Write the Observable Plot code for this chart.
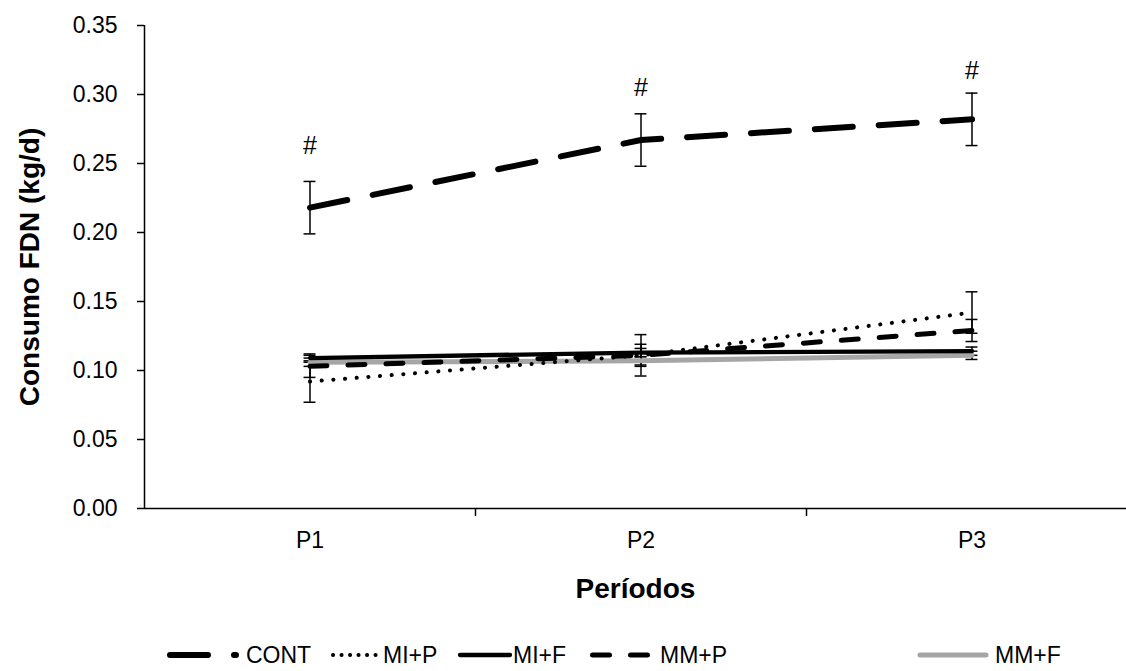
<!DOCTYPE html>
<html><head><meta charset="utf-8">
<script src="https://cdn.jsdelivr.net/npm/d3@7"></script>
<script src="https://cdn.jsdelivr.net/npm/@observablehq/plot@0.6"></script>
<style>
html,body{margin:0;padding:0;background:#fff;}
body{width:1126px;height:671px;overflow:hidden;font-family:"Liberation Sans",Arial,sans-serif;}
#legend svg{display:block;}
</style></head><body><div id="chart"></div><div id="legend"></div>
<script>
const periods = ["P1", "P2", "P3"];
const seriesNames = ["CONT", "MI+P", "MI+F", "MM+P", "MM+F"];
const contValues = [0.218, 0.267, 0.282];
const contErrors = [0.019, 0.019, 0.019];
const miPValues = [0.092, 0.111, 0.142];
const miPErrors = [0.015, 0.015, 0.015];
const miFValues = [0.109, 0.113, 0.114];
const miFErrors = [0.003, 0.003, 0.003];
const mmPValues = [0.103, 0.111, 0.129];
const mmPErrors = [0.008, 0.008, 0.008];
const mmFValues = [0.106, 0.107, 0.111];
const mmFErrors = [0.003, 0.003, 0.003];
const sigMarks = ["#", "#", "#"];
const sigLabelY = [0.263, 0.305, 0.317];
const yTicks = [0, 0.05, 0.10, 0.15, 0.20, 0.25, 0.30, 0.35];

const valuesBySeries = {"CONT": contValues, "MI+P": miPValues, "MI+F": miFValues, "MM+P": mmPValues, "MM+F": mmFValues};
const errorsBySeries = {"CONT": contErrors, "MI+P": miPErrors, "MI+F": miFErrors, "MM+P": mmPErrors, "MM+F": mmFErrors};

const styles = {
  "CONT": {stroke: "#000", strokeWidth: 6, dash: "38,26"},
  "MI+P": {stroke: "#000", strokeWidth: 4, dash: "0.1,11.6"},
  "MI+F": {stroke: "#000", strokeWidth: 4.3, dash: null},
  "MM+P": {stroke: "#000", strokeWidth: 5, dash: "17,21"},
  "MM+F": {stroke: "#A6A6A6", strokeWidth: 5, dash: null}
};

const rows = [];
for (const s of seriesNames) {
  periods.forEach((p, i) => rows.push({series: s, x: i + 1, v: valuesBySeries[s][i], e: errorsBySeries[s][i]}));
}
const sigRows = periods.map((p, i) => ({x: i + 1, y: sigLabelY[i], t: sigMarks[i]}));

const drawOrder = ["MM+F", "MI+F", "MM+P", "MI+P", "CONT"];
const capHalf = 0.018;
const font = '"Liberation Sans", Arial, sans-serif';

const lineMarks = drawOrder.map(s => Plot.line(rows.filter(d => d.series === s), {
  x: "x", y: "v", stroke: styles[s].stroke, strokeWidth: styles[s].strokeWidth,
  strokeDasharray: styles[s].dash || undefined, strokeLinecap: "round", strokeLinejoin: "round"
}));

const chart = Plot.plot({
  width: 1126, height: 630,
  marginLeft: 144, marginRight: 0, marginTop: 25, marginBottom: 122,
  style: {fontFamily: font, fontSize: "23px", color: "#000", background: "#fff", overflow: "visible"},
  x: {type: "linear", domain: [0.5, 3.5], range: [144, 1137]},
  y: {domain: [0, 0.35]},
  marks: [
    Plot.ruleY([0], {stroke: "#000", strokeWidth: 1.5}),
    Plot.ruleX([0.5], {y1: 0, y2: 0.35, stroke: "#000", strokeWidth: 1.5}),
    Plot.axisY({ticks: yTicks, tickFormat: d3.format(".2f"), tickSize: 7, tickPadding: 20, label: null, strokeWidth: 1.5, fontSize: 23}),
    Plot.axisX({ticks: [1.5, 2.5], tickSize: 8, tickFormat: () => "", label: null, strokeWidth: 1.5}),
    Plot.axisX({ticks: [1, 2, 3], tickSize: 0, tickPadding: 23, tickFormat: i => periods[i - 1], label: null, fontSize: 23}),
    Plot.text(["Consumo FDN (kg/d)"], {frameAnchor: "left", textAnchor: "middle", rotate: -90, dx: -114, fontWeight: "bold", fontSize: 28}),
    Plot.text(["Períodos"], {frameAnchor: "bottom", textAnchor: "middle", dy: 89, fontWeight: "bold", fontSize: 28}),
    Plot.ruleX(rows, {x: "x", y1: d => d.v - d.e, y2: d => d.v + d.e, stroke: "#000", strokeWidth: 1.5}),
    Plot.ruleY(rows, {y: d => d.v + d.e, x1: d => d.x - capHalf, x2: d => d.x + capHalf, stroke: "#000", strokeWidth: 1.5}),
    Plot.ruleY(rows, {y: d => d.v - d.e, x1: d => d.x - capHalf, x2: d => d.x + capHalf, stroke: "#000", strokeWidth: 1.5}),
    ...lineMarks,
    Plot.text(sigRows, {x: "x", y: "y", text: "t", fontSize: 25})
  ]
});
document.getElementById("chart").appendChild(chart);

// Legend
const legendItems = [
  {name: "CONT", x1: 170, x2: 236, tx: 246},
  {name: "MI+P", x1: 333, x2: 376, tx: 383},
  {name: "MI+F", x1: 460, x2: 510, tx: 513},
  {name: "MM+P", x1: 592.5, x2: 650, tx: 660},
  {name: "MM+F", x1: 920, x2: 986, tx: 995}
];
const lsvg = d3.select("#legend").append("svg").attr("width", 1126).attr("height", 41);
for (const it of legendItems) {
  const st = styles[it.name];
  lsvg.append("line").attr("x1", it.x1).attr("x2", it.x2).attr("y1", 25).attr("y2", 25)
    .attr("stroke", st.stroke).attr("stroke-width", st.strokeWidth)
    .attr("stroke-dasharray", it.name === "MI+P" ? "0.1,8.4" : st.dash)
    .attr("stroke-linecap", "round");
  lsvg.append("text").attr("x", it.tx).attr("y", 33).attr("font-family", font).attr("font-size", 23)
    .attr("fill", "#000").text(it.name);
}
</script></body></html>
